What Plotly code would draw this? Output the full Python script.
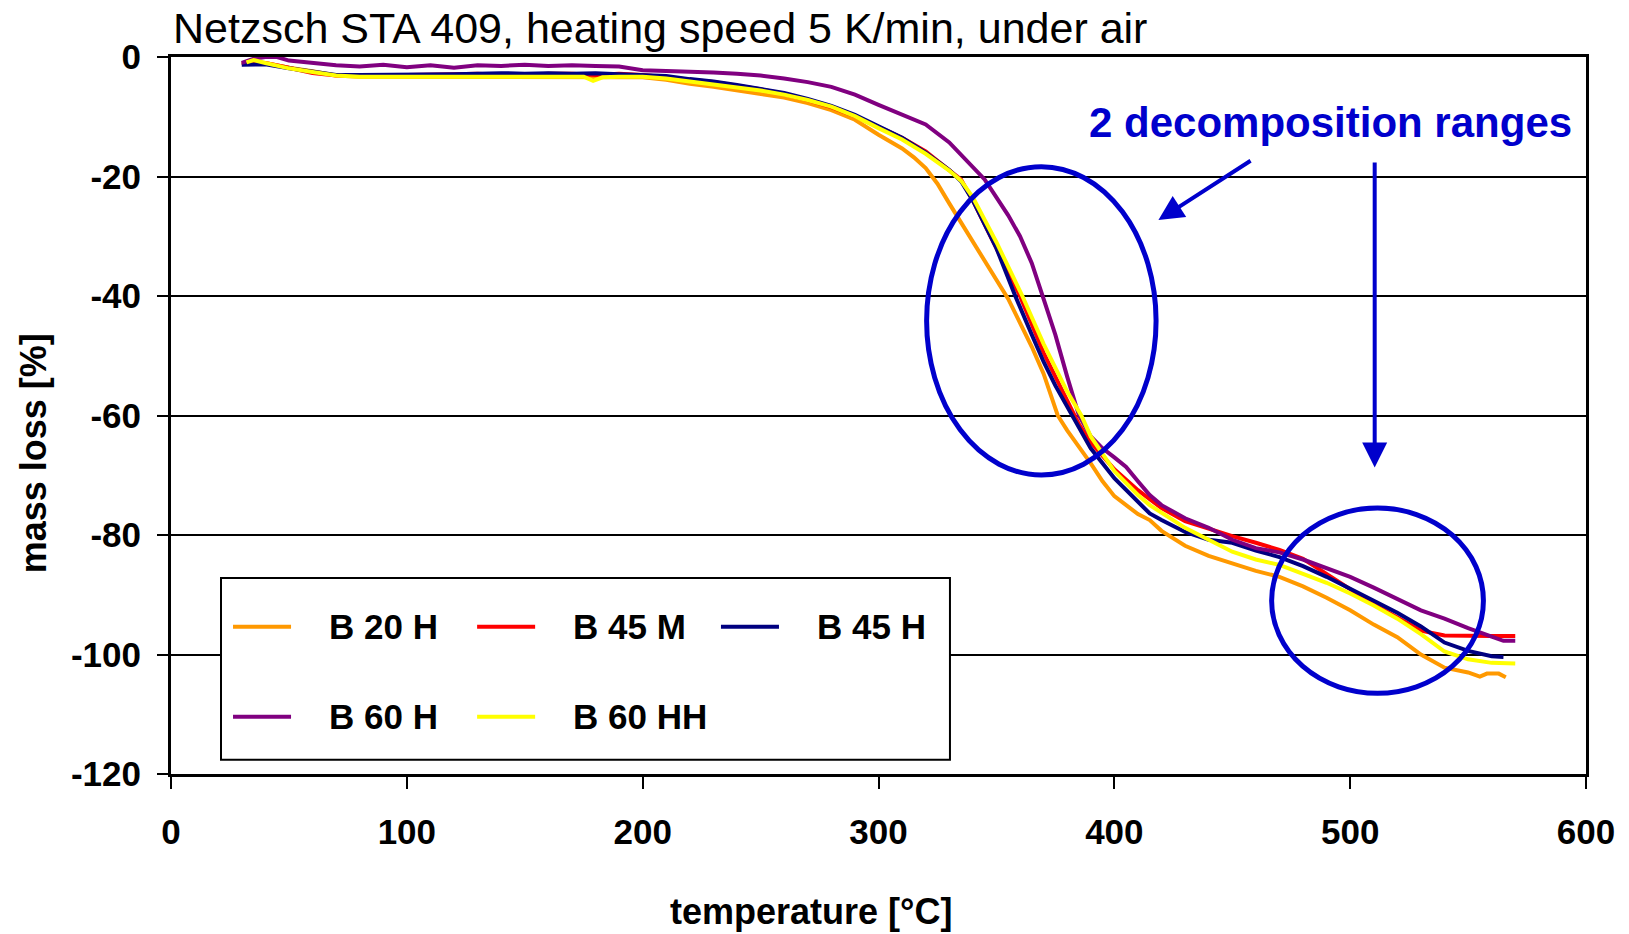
import plotly.graph_objects as go

# ---------------- data ----------------
names = ["B 20 H", "B 45 M", "B 45 H", "B 60 H", "B 60 HH"]
colors = ["#FF9900", "#FF0000", "#000080", "#800080", "#FFFF00"]

t_b20h = [30, 35, 40, 50, 60, 70, 80, 90, 100, 110, 120, 130, 140, 150, 160, 170, 180, 190, 200,
          210, 220, 230, 240, 250, 260, 270, 280, 290, 300, 310, 315, 320, 325, 330, 340, 350, 355,
          360, 365, 370, 376, 380, 387, 390, 395, 400, 410, 415, 420, 430, 440, 450, 460, 470, 480,
          490, 500, 510, 520, 530, 540, 550, 555, 558, 563, 566]
m_b20h = [-1.2, -0.8, -1.0, -1.8, -2.4, -3.1, -3.3, -3.3, -3.3, -3.3, -3.3, -3.3, -3.3, -3.3, -3.3, -3.3, -3.4, -3.4, -3.4,
          -3.8, -4.5, -5.0, -5.6, -6.1, -6.8, -7.7, -8.9, -10.5, -13.0, -15.3, -16.8, -18.6, -21.2, -24.5, -31.0, -37.5, -40.5,
          -44.5, -48.5, -53.0, -60.0, -62.5, -66.3, -68.0, -71.0, -73.5, -76.5, -77.5, -79.3, -81.8, -83.5, -84.8, -86.0, -87.0, -88.6,
          -90.5, -92.6, -95.0, -97.1, -100.0, -102.2, -103.0, -103.7, -103.2, -103.2, -103.8]

t_b45m = [30, 40, 50, 60, 70, 80, 90, 100, 110, 120, 130, 140, 150, 160, 170, 180, 190, 200,
          210, 220, 230, 240, 250, 260, 270, 280, 290, 300, 310, 320, 330, 335, 340, 350, 360, 370,
          380, 385, 390, 400, 410, 420, 430, 440, 450, 460, 470, 480, 490, 500, 510, 520, 530, 540,
          550, 560, 570]
m_b45m = [-1.0, -1.0, -1.8, -2.7, -3.1, -3.0, -3.0, -3.0, -3.0, -2.9, -2.8, -3.0, -3.0, -2.8, -2.8, -3.0, -2.8, -3.0,
          -3.4, -3.8, -4.2, -4.8, -5.4, -6.2, -7.2, -8.4, -9.9, -11.7, -13.5, -15.8, -18.8, -20.5, -24.0, -32.0, -40.0, -49.5,
          -57.5, -61.5, -64.5, -69.0, -72.5, -75.5, -77.7, -79.0, -80.2, -81.3, -82.5, -84.0, -86.5, -89.2, -91.6, -93.8, -96.0, -96.8,
          -96.9, -96.9, -96.9]

t_b45h = [30, 40, 50, 60, 70, 80, 90, 100, 110, 120, 130, 140, 150, 160, 170, 180, 190, 200,
          210, 220, 230, 240, 250, 260, 270, 280, 290, 300, 310, 320, 330, 335, 340, 350, 358, 365,
          370, 375, 380, 383, 390, 400, 410, 415, 420, 430, 440, 450, 460, 470, 480, 490, 500, 510,
          520, 530, 540, 550, 560, 565]
m_b45h = [-1.3, -1.2, -1.9, -2.5, -3.0, -3.0, -3.0, -3.0, -3.0, -2.9, -2.8, -2.7, -2.8, -2.7, -2.8, -2.7, -2.9, -3.0,
          -3.2, -3.7, -4.1, -4.7, -5.3, -6.0, -7.0, -8.2, -9.7, -11.6, -13.5, -16.0, -18.9, -20.8, -24.0, -32.0, -40.0, -46.5,
          -51.0, -55.0, -58.5, -60.5, -65.5, -70.5, -74.5, -76.4, -77.5, -79.5, -80.8, -81.3, -82.6, -83.7, -85.2, -87.0, -89.0, -91.0,
          -93.0, -95.3, -98.0, -99.4, -100.3, -100.4]

t_b60h = [30, 35, 40, 45, 50, 60, 70, 80, 90, 100, 110, 120, 130, 140, 150, 160, 170, 180, 190, 200,
          210, 220, 230, 240, 250, 260, 270, 280, 290, 300, 310, 320, 330, 340, 345, 350, 355, 360,
          365, 370, 375, 380, 385, 390, 395, 400, 405, 410, 415, 420, 430, 440, 450, 460, 470, 480,
          490, 500, 510, 520, 530, 540, 550, 560, 565, 570]
m_b60h = [-1.0, -0.3, 0.0, 0.0, -0.6, -1.0, -1.4, -1.6, -1.3, -1.7, -1.4, -1.8, -1.4, -1.5, -1.3, -1.5, -1.4, -1.5, -1.6, -2.2,
          -2.3, -2.4, -2.6, -2.8, -3.1, -3.6, -4.2, -5.0, -6.3, -8.0, -9.6, -11.3, -14.3, -18.3, -20.5, -23.5, -26.5, -30.0,
          -34.5, -40.5, -46.5, -53.5, -60.0, -63.5, -65.5, -67.0, -68.6, -71.0, -73.3, -75.0, -77.2, -78.8, -80.8, -82.2, -82.9, -84.1,
          -85.5, -87.0, -88.8, -90.7, -92.6, -94.0, -95.6, -97.0, -97.7, -97.7]

t_b60hh = [32, 35, 40, 50, 60, 70, 80, 90, 100, 110, 120, 130, 140, 150, 160, 170, 175, 179, 183, 190, 200,
           210, 220, 230, 240, 250, 260, 270, 280, 290, 300, 310, 320, 330, 335, 340, 350, 361, 370,
           380, 386, 390, 400, 410, 415, 420, 430, 440, 450, 460, 470, 480, 490, 500, 510, 520, 530,
           540, 550, 560, 570]
m_b60hh = [-0.9, -0.5, -1.0, -1.9, -2.5, -3.1, -3.3, -3.3, -3.3, -3.3, -3.3, -3.3, -3.3, -3.3, -3.3, -3.3, -3.3, -4.0, -3.4, -3.3, -3.3,
           -3.6, -4.1, -4.5, -5.0, -5.6, -6.3, -7.2, -8.3, -9.9, -11.9, -13.8, -16.2, -19.0, -20.7, -23.5, -31.0, -40.0, -48.0,
           -56.0, -60.0, -63.5, -69.3, -73.3, -75.0, -76.3, -78.8, -80.8, -82.8, -84.1, -85.0, -86.5, -88.0, -89.8, -91.8, -94.0, -96.6,
           -99.5, -100.8, -101.4, -101.5]

temps = [t_b20h, t_b45m, t_b45h, t_b60h, t_b60hh]
masses = [m_b20h, m_b45m, m_b45h, m_b60h, m_b60hh]

x_ticks = [0, 100, 200, 300, 400, 500, 600]
y_ticks = [-120, -100, -80, -60, -40, -20, 0]
y_ticklabels = ["-120", "-100", "-80", "-60", "-40", "-20", "0"]

title_text = "Netzsch STA 409, heating speed 5 K/min, under air"
x_title = "temperature [°C]"
y_title = "mass loss [%]"
note_text = "2 decomposition ranges"

# ---------------- figure ----------------
FONT = "Liberation Sans, Arial, sans-serif"
BLUE = "#0000CC"

fig = go.Figure()
for t, m, n, c in zip(temps, masses, names, colors):
    fig.add_trace(go.Scatter(x=t, y=m, name=n, mode="lines",
                             line=dict(color=c, width=4), showlegend=False))

fig.update_layout(
    width=1629, height=934,
    margin=dict(l=171, r=43, t=57, b=160),
    paper_bgcolor="white", plot_bgcolor="white",
    font=dict(family=FONT, color="black"),
    showlegend=False,
)
fig.update_xaxes(range=[0, 600], tickvals=x_ticks, showgrid=False, zeroline=False,
                 showline=True, linecolor="black", linewidth=3, mirror=True,
                 ticks="outside", ticklen=12, tickwidth=2, tickcolor="black",
                 tickfont=dict(size=35, weight="bold", family=FONT),
                 ticklabelstandoff=13, automargin=False)
fig.update_yaxes(range=[-120, 0], tickvals=y_ticks, ticktext=y_ticklabels,
                 showgrid=True, gridcolor="black", gridwidth=2, zeroline=False,
                 showline=True, linecolor="black", linewidth=3, mirror=True,
                 ticks="outside", ticklen=11, tickwidth=2, tickcolor="black",
                 tickfont=dict(size=35, weight="bold", family=FONT),
                 ticklabelstandoff=9, automargin=False)

annotations = [
    dict(text=title_text, xref="paper", yref="paper", x=0.0, y=1.0405,
         xanchor="left", yanchor="middle", showarrow=False,
         font=dict(size=43, family=FONT, color="black")),
    dict(text=x_title, xref="paper", yref="paper", x=0.4523, y=-0.192,
         xanchor="center", yanchor="middle", showarrow=False,
         font=dict(size=36, family=FONT, weight="bold", color="black")),
    dict(text=y_title, xref="paper", yref="paper", x=-0.097, y=0.447,
         xanchor="center", yanchor="middle", showarrow=False, textangle=-90,
         font=dict(size=36, family=FONT, weight="bold", color="black")),
    dict(text=note_text, xref="x", yref="y", x=491.7, y=-10.9,
         xanchor="center", yanchor="middle", showarrow=False,
         font=dict(size=42, family=FONT, weight="bold", color=BLUE)),
    # arrows
    dict(text="", xref="x", yref="y", axref="x", ayref="y",
         x=418.7, y=-27.3, ax=458.4, ay=-17.2, showarrow=True,
         arrowhead=2, arrowsize=1.25, arrowwidth=4, arrowcolor=BLUE),
    dict(text="", xref="x", yref="y", axref="x", ayref="y",
         x=510.4, y=-68.7, ax=510.4, ay=-17.4, showarrow=True,
         arrowhead=2, arrowsize=1.25, arrowwidth=4, arrowcolor=BLUE),
]

shapes = [
    dict(type="circle", xref="x", yref="y", x0=320.4, x1=417.7, y0=-69.96, y1=-18.36,
         line=dict(color=BLUE, width=5), layer="above"),
    dict(type="circle", xref="x", yref="y", x0=466.7, x1=556.5, y0=-106.5, y1=-75.5,
         line=dict(color=BLUE, width=5), layer="above"),
]

# ---- custom legend box (Excel style) ----
LEG_X0, LEG_X1, LEG_Y0, LEG_Y1 = 21.2, 330.3, -117.6, -87.2
shapes.append(dict(type="rect", xref="x", yref="y", x0=LEG_X0, x1=LEG_X1, y0=LEG_Y0, y1=LEG_Y1,
                   line=dict(color="black", width=2), fillcolor="white", layer="above"))
col_x = [26.3, 129.8, 233.2]
row_y = [-95.35, -110.4]
SAMPLE_LEN = 24.6
TEXT_OFF = 39.9
for i, (n, c) in enumerate(zip(names, colors)):
    cx = col_x[i % 3]
    ry = row_y[i // 3]
    shapes.append(dict(type="line", xref="x", yref="y", x0=cx, x1=cx + SAMPLE_LEN, y0=ry, y1=ry,
                       line=dict(color=c, width=4), layer="above"))
    annotations.append(dict(text=n, xref="x", yref="y", x=cx + TEXT_OFF, y=ry,
                            xanchor="left", yanchor="middle", showarrow=False,
                            font=dict(size=35, family=FONT, weight="bold", color="black")))

fig.update_layout(annotations=annotations, shapes=shapes)
fig.write_html("out.html",
               config={"displayModeBar": False},
               post_script="document.body.style.margin='0px';document.body.style.overflow='hidden';")
